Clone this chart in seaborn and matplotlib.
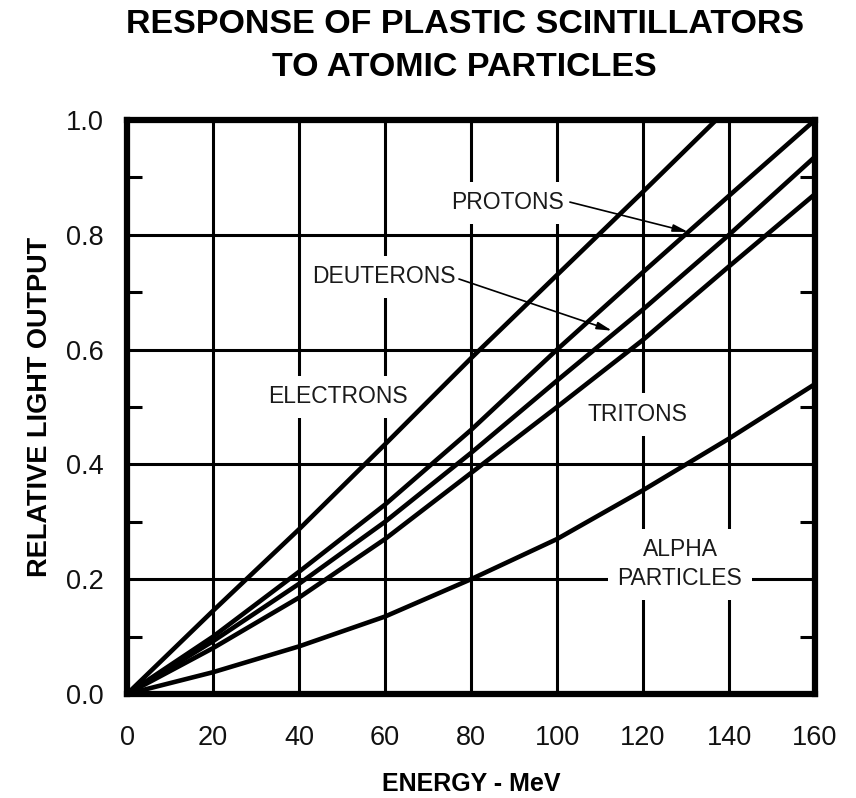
import matplotlib
matplotlib.use("Agg")
import matplotlib.pyplot as plt
from matplotlib.ticker import MultipleLocator
import numpy as np
import pandas as pd
import seaborn as sns

# Relative light output of plastic scintillator vs. particle energy (MeV)
energy = [0, 20, 40, 60, 80, 100, 120, 140, 160]
electron_energy = [0, 20, 40, 60, 80, 100, 120, 137]
electrons = [0.0, 0.145, 0.287, 0.435, 0.585, 0.73, 0.875, 1.0]
protons = [0.0, 0.10, 0.213, 0.33, 0.46, 0.60, 0.735, 0.868, 1.0]
deuterons = [0.0, 0.092, 0.192, 0.30, 0.42, 0.546, 0.67, 0.80, 0.936]
tritons = [0.0, 0.08, 0.168, 0.27, 0.385, 0.50, 0.617, 0.745, 0.871]
alphas = [0.0, 0.038, 0.083, 0.135, 0.20, 0.27, 0.355, 0.445, 0.54]

x_ticks = [0, 20, 40, 60, 80, 100, 120, 140, 160]
y_ticks = [0.0, 0.2, 0.4, 0.6, 0.8, 1.0]

frames = [pd.DataFrame({"energy": electron_energy, "output": electrons, "particle": "electrons"})]
for name, vals in [("protons", protons), ("deuterons", deuterons),
                   ("tritons", tritons), ("alphas", alphas)]:
    frames.append(pd.DataFrame({"energy": energy, "output": vals, "particle": name}))
df = pd.concat(frames, ignore_index=True)

sns.set_style("white")
plt.rcParams["font.family"] = ["Liberation Sans", "DejaVu Sans"]

fig = plt.figure(figsize=(8.56, 7.98), dpi=100)
ax = fig.add_axes([0.1484, 0.1303, 0.8037, 0.7193])

ax.set_xlim(0, 160)
ax.set_ylim(0, 1.0)
ax.set_xticks(x_ticks)
ax.set_yticks(y_ticks)
ax.set_xticklabels([str(v) for v in x_ticks])
ax.set_yticklabels([f"{v:.1f}" for v in y_ticks])
ax.yaxis.set_minor_locator(MultipleLocator(0.1))
ax.tick_params(axis="both", which="major", length=0, labelsize=19.5, labelcolor="#111111")
ax.tick_params(axis="x", which="major", pad=22)
ax.tick_params(axis="y", which="major", pad=17)
ax.tick_params(axis="y", which="minor", direction="in", length=11, width=2.2,
               left=True, right=True, color="black")
ax.grid(True, which="major", color="black", linewidth=2.2, zorder=1)
ax.set_axisbelow(True)

sns.lineplot(data=df, x="energy", y="output", hue="particle",
             palette=["black"] * 5, linewidth=3.3, legend=False, ax=ax,
             sort=False, zorder=3)

for s in ax.spines.values():
    s.set_linewidth(4.5)
    s.set_color("black")
    s.set_zorder(6)

box = dict(facecolor="white", edgecolor="none", pad=7)
lab = dict(fontsize=16.5, color="#1a1a1a", ha="center", va="center", zorder=2.5, bbox=box)
ax.text(88.4, 0.856, "PROTONS", **lab)
ax.text(59.8, 0.727, "DEUTERONS", **lab)
ax.text(49.1, 0.518, "ELECTRONS", **lab)
ax.text(118.8, 0.487, "TRITONS", **lab)
ax.text(128.6, 0.226, "ALPHA\nPARTICLES", linespacing=1.35, **lab)

arrow = dict(arrowstyle="-|>,head_length=0.9,head_width=0.22", color="black",
             lw=1.2, shrinkA=0, shrinkB=0)
ax.annotate("", xy=(130.5, 0.805), xytext=(103.0, 0.857), arrowprops=arrow, zorder=5)
ax.annotate("", xy=(112.8, 0.633), xytext=(77.2, 0.723), arrowprops=arrow, zorder=5)

ax.set_xlabel("ENERGY - MeV", fontsize=18, fontweight="bold", labelpad=15.5, color="black")
ax.set_ylabel("RELATIVE LIGHT OUTPUT", fontsize=19.5, fontweight="bold", labelpad=9, color="black")

fig.text(0.543, 0.9424, "RESPONSE OF PLASTIC SCINTILLATORS\nTO ATOMIC PARTICLES",
         ha="center", va="center", fontsize=24.5, fontweight="bold", linespacing=1.49,
         color="black")

fig.savefig("out.png", dpi=100, facecolor="white")
